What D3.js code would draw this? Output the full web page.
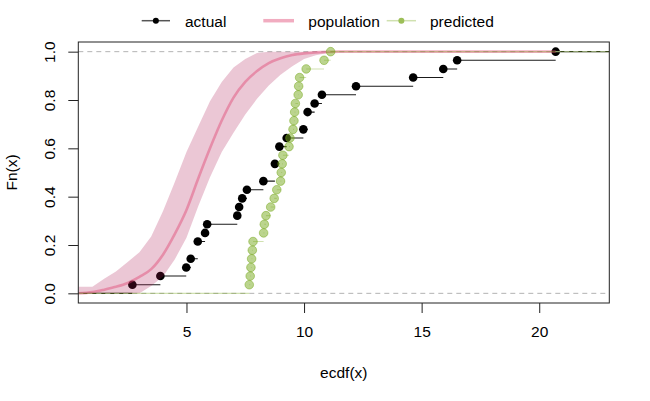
<!DOCTYPE html>
<html>
<head>
<meta charset="utf-8">
<script src="https://cdn.jsdelivr.net/npm/d3@7"></script>
<style>
  body { margin: 0; background: white; }
  svg { font-family: "Liberation Sans", Arial, Helvetica, sans-serif; }
</style>
</head>
<body>
<div id="chart"></div>
<script>
// observed sample, ties repeated
var actual = [2.70, 3.89, 4.99, 5.18, 5.48, 5.48, 5.79, 5.88, 7.16, 7.24, 7.37, 7.57, 8.27, 8.76,
              8.76, 8.95, 8.95, 9.26, 9.97, 10.15, 10.15, 10.45, 10.76, 12.21, 14.64, 15.92, 16.51, 20.70];

var predicted = [7.67, 7.71, 7.74, 7.77, 7.80, 7.83, 8.28, 8.31, 8.38, 8.58, 8.73, 8.84, 9.00, 9.03,
                 9.07, 9.10, 9.36, 9.40, 9.53, 9.57, 9.60, 9.63, 9.75, 9.77, 9.81, 10.09, 10.85, 11.13];

// population ecdf: mean and interval on a grid
var popX    = [0.40, 1.0, 1.5, 2.0, 2.5, 3.0, 3.5, 4.0, 4.5, 5.0, 5.5, 6.0, 6.5, 7.0, 7.5, 8.0, 8.5, 9.0, 9.5, 10.0, 10.5, 11.0, 11.5, 12.0, 20.7];
var popMean = [0.0, 0.005, 0.015, 0.027, 0.043, 0.068, 0.10, 0.16, 0.245, 0.345, 0.475, 0.60, 0.715, 0.81, 0.875, 0.92, 0.953, 0.973, 0.986, 0.993, 0.997, 0.999, 1, 1, 1];
var popLow  = [0, 0, 0, 0, 0, 0, 0.03, 0.07, 0.14, 0.23, 0.36, 0.48, 0.585, 0.665, 0.74, 0.805, 0.86, 0.905, 0.94, 0.97, 0.985, 0.995, 1, 1, 1];
var popHigh = [0.027, 0.027, 0.06, 0.09, 0.13, 0.17, 0.235, 0.34, 0.46, 0.585, 0.69, 0.795, 0.875, 0.935, 0.97, 0.995, 1, 1, 1, 1, 1, 1, 1, 1, 1];

var xTicks = [5, 10, 15, 20];
var yTicks = [0, 0.2, 0.4, 0.6, 0.8, 1];
var legendLabels = ["actual", "population", "predicted"];

var width = 650, height = 401;
var plotLeft = 78.3, plotRight = 609.3, plotTop = 42, plotBottom = 303;
var fontSize = "15.5px";

var green = "rgba(120,170,30,0.5)";
var greenLine = "rgba(120,170,30,0.35)";
var pinkBand = "rgba(170,20,80,0.24)";
var pinkLine = "rgba(225,70,115,0.45)";

var svg = d3.select("#chart")
    .append("svg")
    .attr("width", width)
    .attr("height", height)
    .style("font-size", fontSize)

svg.append("rect")
    .attr("width", width)
    .attr("height", height)
    .attr("fill", "white")

var x = d3.scaleLinear().domain([0.40, 22.98]).range([plotLeft, plotRight])
var y = d3.scaleLinear().domain([-0.04, 1.04]).range([plotBottom, plotTop])

svg.append("clipPath")
    .attr("id", "plotArea")
    .append("rect")
    .attr("x", plotLeft)
    .attr("y", plotTop)
    .attr("width", plotRight - plotLeft)
    .attr("height", plotBottom - plotTop)

var plot = svg.append("g").attr("clip-path", "url(#plotArea)")

// turn a sample into step knots
var ecdfSteps = function(values) {
  var sorted = values.slice().sort(d3.ascending)
  var n = sorted.length
  var knots = Array.from(new Set(sorted))
  return knots.map(function(k, i) {
    return {
      x: k,
      y: d3.bisectRight(sorted, k) / n,
      next: i < knots.length - 1 ? knots[i + 1] : x.domain()[1]
    }
  })
}

var drawSteps = function(steps, lineColor, dotColor, strokeDot) {
  var g = plot.append("g")
  g.append("line")
      .attr("x1", x(x.domain()[0]))
      .attr("x2", x(steps[0].x))
      .attr("y1", y(0))
      .attr("y2", y(0))
      .style("stroke", lineColor)
      .style("stroke-width", 1.1)
  g.selectAll(".seg")
      .data(steps)
      .enter()
      .append("line")
      .attr("class", "seg")
      .attr("x1", d => x(d.x))
      .attr("x2", d => x(d.next))
      .attr("y1", d => y(d.y))
      .attr("y2", d => y(d.y))
      .style("stroke", lineColor)
      .style("stroke-width", 1.1)
  g.selectAll(".pt")
      .data(steps)
      .enter()
      .append("circle")
      .attr("class", "pt")
      .attr("cx", d => x(d.x))
      .attr("cy", d => y(d.y))
      .attr("r", 4.3)
      .attr("fill", dotColor)
      .style("stroke", strokeDot ? dotColor : "none")
      .style("stroke-width", 1)
}

// actual sample first, as in the original
drawSteps(ecdfSteps(actual), "#1a1a1a", "black", false)

// reference lines at 0 and 1
plot.selectAll(".ref")
    .data([0, 1])
    .enter()
    .append("line")
    .attr("x1", plotLeft)
    .attr("x2", plotRight)
    .attr("y1", d => y(d))
    .attr("y2", d => y(d))
    .style("stroke", "#b3b3b3")
    .style("stroke-dasharray", "5,4")

var popRows = popX.map((d, i) => ({ x: d, mean: popMean[i], lo: popLow[i], hi: popHigh[i] }))

plot.append("path")
    .datum(popRows)
    .attr("d", d3.area().x(d => x(d.x)).y0(d => y(d.lo)).y1(d => y(d.hi)))
    .attr("fill", pinkBand)

plot.append("path")
    .datum(popRows)
    .attr("d", d3.line().x(d => x(d.x)).y(d => y(d.mean)).curve(d3.curveMonotoneX))
    .attr("fill", "none")
    .style("stroke", pinkLine)
    .style("stroke-width", 2.6)

drawSteps(ecdfSteps(predicted), greenLine, green, true)

// box
svg.append("rect")
    .attr("x", plotLeft)
    .attr("y", plotTop)
    .attr("width", plotRight - plotLeft)
    .attr("height", plotBottom - plotTop)
    .attr("fill", "none")
    .style("stroke", "#222")
    .style("stroke-width", 1)

var xAxis = svg.append("g")
    .attr("transform", "translate(0," + plotBottom + ")")
    .call(d3.axisBottom(x).tickValues(xTicks).tickSize(10).tickPadding(13.3))
xAxis.select(".domain").remove()
xAxis.selectAll("text").style("font-size", fontSize).attr("fill", "black").style("font-family", "inherit")
xAxis.selectAll("line").style("stroke", "#222")

var yAxis = svg.append("g")
    .attr("transform", "translate(" + plotLeft + ",0)")
    .call(d3.axisLeft(y).tickValues(yTicks).tickSize(10).tickFormat(d3.format(".1f")))
yAxis.select(".domain").remove()
yAxis.selectAll("line").style("stroke", "#222")
yAxis.selectAll("text")
    .attr("x", null)
    .attr("dy", null)
    .attr("transform", "translate(-23,0) rotate(-90)")
    .style("text-anchor", "middle")
    .style("font-size", fontSize)
    .style("font-family", "inherit")
    .attr("fill", "black")

svg.append("text")
    .attr("x", (plotLeft + plotRight) / 2)
    .attr("y", 378.3)
    .style("text-anchor", "middle")
    .text("ecdf(x)")

svg.append("text")
    .attr("transform", "translate(16.9," + ((plotTop + plotBottom) / 2) + ") rotate(-90)")
    .style("text-anchor", "middle")
    .text("Fn(x)")

// legend along the top
var legendItems = [
  { x1: 141.7, x2: 170, tx: 185, line: "#555", width: 1.5, dot: "black" },
  { x1: 263.3, x2: 294, tx: 308.3, line: pinkLine, width: 3.5, dot: null },
  { x1: 386.7, x2: 416, tx: 430, line: greenLine, width: 1.5, dot: "#9dbf58" }
]

var legend = svg.selectAll(".legendItem")
    .data(legendLabels)
    .enter()
    .append("g")
    .attr("class", "legendItem")

legend.append("line")
    .attr("x1", (d, i) => legendItems[i].x1)
    .attr("x2", (d, i) => legendItems[i].x2)
    .attr("y1", 20.7)
    .attr("y2", 20.7)
    .style("stroke", (d, i) => legendItems[i].line)
    .style("stroke-width", (d, i) => legendItems[i].width)

legend.filter((d, i) => legendItems[i].dot)
    .append("circle")
    .attr("cx", d => { var it = legendItems[legendLabels.indexOf(d)]; return (it.x1 + it.x2) / 2 })
    .attr("cy", 20.7)
    .attr("r", 3)
    .attr("fill", d => legendItems[legendLabels.indexOf(d)].dot)

legend.append("text")
    .attr("x", (d, i) => legendItems[i].tx)
    .attr("y", 26.5)
    .text(d => d)
</script>
</body>
</html>
